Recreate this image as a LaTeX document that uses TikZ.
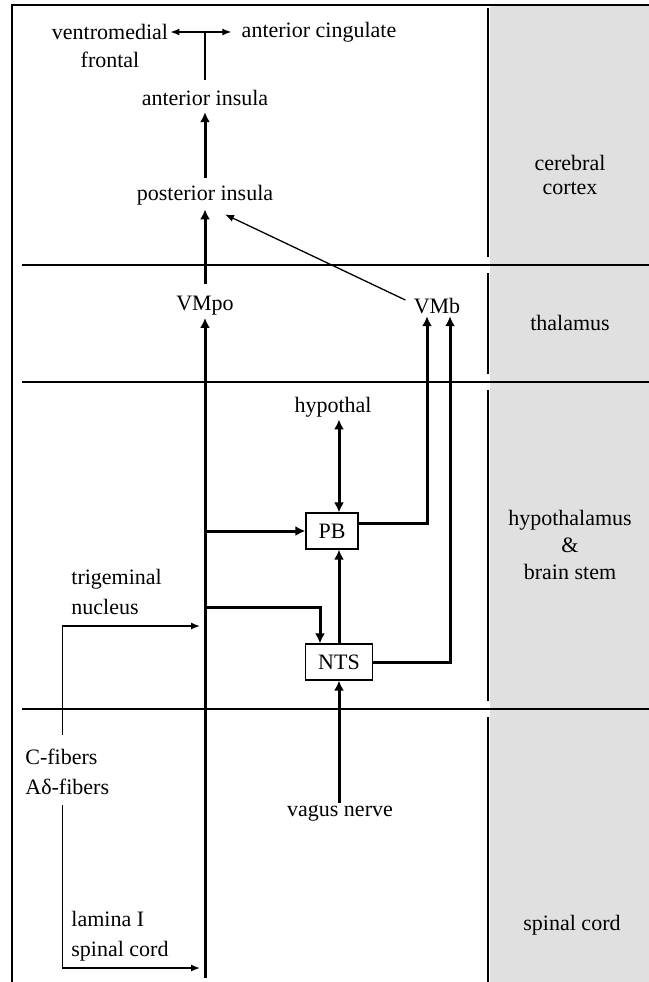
\documentclass[tikz,border=0pt]{standalone}
\usepackage{fontspec}
\setmainfont{Liberation Serif}
\usetikzlibrary{arrows.meta, positioning, calc}

\begin{document}
\begin{tikzpicture}[
    x=0.5pt, y=-0.5pt,
    every node/.style={font=\fontsize{11}{15}\selectfont, inner sep=1pt},
    area/.style={align=center, font=\fontsize{11}{12}\selectfont},
    relay/.style={draw, line width=0.6pt, inner xsep=6.3pt, minimum height=18pt},
    tract/.style={line width=1.5pt, >={Latex[length=5pt, width=5pt]}, ->},
    fibre/.style={line width=0.65pt, >={Latex[length=4.5pt, width=3.5pt]}, ->},
    frame/.style={line width=0.75pt},
]
\useasboundingbox (0,0) rectangle (649,982);

% Region column and frame
\fill[black!12] (490,5) rectangle (649,982);
\draw[frame] (649,5) -- (12,5) -- (12,982);
\foreach \y in {265,382,709}
    \draw[frame] (22,\y) -- (649,\y);
\foreach \a/\b in {8/257, 273/374, 390/701, 717/982}
    \draw[line width=1pt] (488,\a) -- (488,\b);

% Region labels
\node[area] (cortex) at (570,175) {cerebral\\cortex};
\node[area] (thal) at (570,323) {thalamus};
\node[area, font=\fontsize{11}{13.5}\selectfont] (stem) at (570,545) {hypothalamus\\\&\\brain stem};
\node[area] (cord) at (572,925) {spinal cord};

% Cortex
\node (vm) at (110,32) {ventromedial};
\node (frontal) at (110,60) {frontal};
\node (acc) at (319,32) {anterior cingulate};
\node (ains) at (205,98) {anterior insula};
\node (pins) at (205,195) {posterior insula};

% Thalamus
\node (vmpo) at (205,306) {VMpo};
\node (vmb) at (437,306) {VMb};

% Brain stem and cord
\node (hypo) at (333,407) {hypothal};
\node[relay] (pb) at (332,531) {PB};
\node[relay] (nts) at (339,662) {NTS};
\node[align=left, anchor=west] (trig) at (69,592) {trigeminal\\nucleus};
\node[align=left, anchor=west] (fibers) at (23,772) {C-fibers\\Aδ-fibers};
\node (vagus) at (340,813) {vagus nerve};
\node[align=left, anchor=west] (lamina) at (69,936) {lamina I\\spinal cord};

\coordinate (jn) at (205,32);
\coordinate (bot) at (205,978);
\coordinate (toPB) at (205,531);
\coordinate (toNTS) at (205,607);
\coordinate (trigtip) at (200,626);
\coordinate (cordtip) at (200,968);

% Ascending paths
\draw[fibre, <->, shorten >=4pt] (vm) -- (acc);
\draw[fibre, -, shorten <=4pt] (ains) -- (jn);
\draw[tract, shorten <=2.5pt, shorten >=2pt] (pins) -- (ains);
\draw[tract, shorten <=5pt, shorten >=1pt] (vmpo) -- (pins);
\draw[fibre] ([shift={(-3pt,3pt)}]vmb.west) -- ($(pins.south)+(20,7)$);
\draw[tract] (bot) -- (vmpo);
\draw[tract] (toPB) -- (pb);
\draw[tract] (toNTS) -| ([xshift=-9.5pt]nts.north);
\draw[tract] (nts.north) -- (nts.north |- pb.south);
\draw[tract, <->] (hypo.south -| nts.north) -- (pb.north -| nts.north);
\draw[tract] (vagus.north -| nts) -- (nts.south);
\draw[tract] ([yshift=4pt]pb.east) -| ([xshift=-5pt]vmb.south);
\draw[tract] (nts.east) -| ([xshift=6.5pt]vmb.south);

% Primary afferents
\draw[fibre, shorten <=6pt] ([xshift=-2.5pt]fibers.north) |- (trigtip);
\draw[fibre, shorten <=4pt] ([xshift=-2.5pt]fibers.south) |- (cordtip);

\end{tikzpicture}
\end{document}
